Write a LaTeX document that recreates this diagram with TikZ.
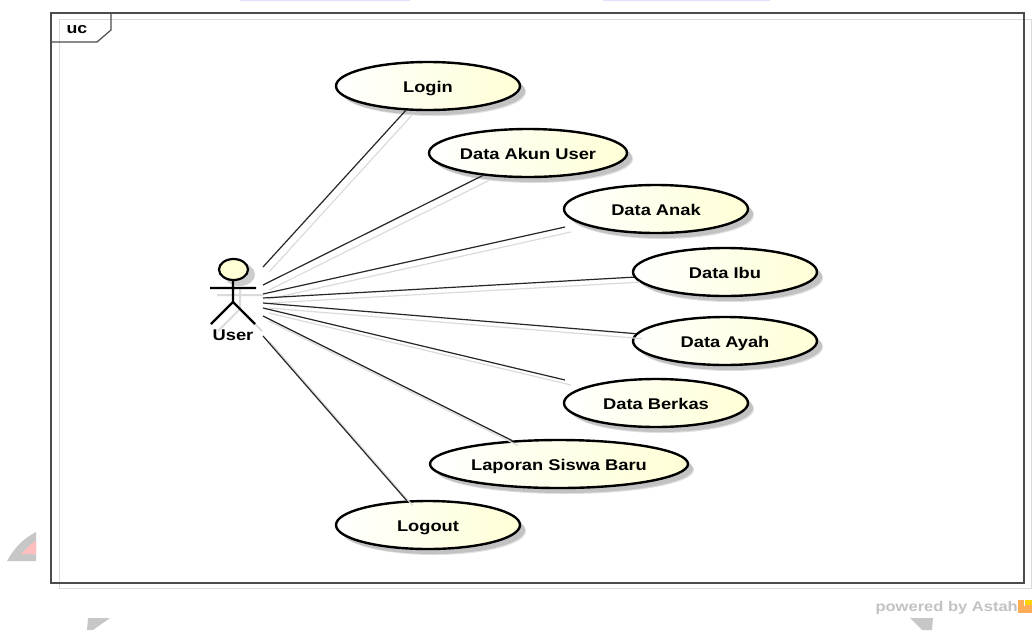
\documentclass[tikz,border=0pt]{standalone}
\usepackage{fontspec}
\setmainfont{Liberation Sans}
\newfontface\labelface[FakeStretch=1.18]{Liberation Sans Bold}
\usetikzlibrary{shapes.geometric,shadows}
\definecolor{shadegray}{gray}{0.80}
\definecolor{lightline}{gray}{0.86}
\definecolor{framedark}{gray}{0.30}
\definecolor{ucyellow}{HTML}{FFFFD6}
\tikzset{
  usecase/.style={ellipse,draw=black,line width=2.4pt,inner sep=0pt,minimum height=48pt,
    left color=white,right color=ucyellow,
    general shadow={shadow xshift=6pt,shadow yshift=-6pt,fill=black!12},
    general shadow={shadow xshift=5pt,shadow yshift=-5pt,fill=black!24},
    font=\labelface\fontsize{15.5}{16}\selectfont,text depth=0pt,text height=13pt},
  w184/.style={minimum width=184pt},
  assoc/.style={draw=black!85,line width=1.2pt},
  assocshadow/.style={draw=lightline,line width=1.2pt,transform canvas={shift={(6pt,-5pt)}}},
  stick/.style={draw=black,line width=2.2pt},
  stickshadow/.style={draw=lightline,line width=2pt,transform canvas={shift={(7pt,-7pt)}}},
  wm/.style={fill=black!22,draw=none},
  wmred/.style={fill=red!25,draw=none},
}
\begin{document}
\begin{tikzpicture}[x=1pt,y=-1pt]
\useasboundingbox (0,0) rectangle (1032,630);
% faded fragments of the page behind
\fill[wm] (7,561) .. controls (14,548) and (24,538) .. (36,532) -- (36,561) -- cycle;
\fill[wmred] (21,554) .. controls (26,549) and (31,544) .. (36,541) -- (36,554) -- cycle;
\fill[wm] (87,630) -- (88,618) -- (110,618) -- (93,630) -- cycle;
\fill[wm] (910,618) -- (933,618) -- (932,630) -- (922,630) -- cycle;
\fill[blue!12] (240,0) rectangle (410,1);
\fill[blue!12] (603,0) rectangle (770,1);
% frame
\draw[lightline,line width=1pt] (59,19) rectangle (1031,588);
\fill[white] (51,13) rectangle (1024,583);
\draw[lightline,line width=1pt] (59,19) -- (1024,19) (59,19) -- (59,583);
\draw[framedark,line width=1.2pt] (51,13) rectangle (1024,583);
\draw[framedark,line width=1.2pt] (51,42) -- (97,42) -- (111,30) -- (111,13);
\node[font=\labelface\fontsize{15}{16}\selectfont,anchor=center] (uc) at (77,30) {uc};
% anchors for the actor's associations
\coordinate (u1) at (263,267);
\coordinate (u2) at (263,285);
\coordinate (u3) at (263,294);
\coordinate (u4) at (263,298);
\coordinate (u5) at (263,303);
\coordinate (u6) at (263,308);
\coordinate (u7) at (263,316);
\coordinate (u8) at (263,336);
\coordinate (anakend) at (565,227);
\coordinate (berkasend) at (565,380);
% use cases
\node[usecase,w184] (login) at (428,86) {Login};
\node[usecase,minimum width=198pt] (akun) at (528,153) {Data Akun User};
\node[usecase,w184] (anak) at (656,209) {Data Anak};
\node[usecase,w184] (ibu) at (725,272) {Data Ibu};
\node[usecase,w184] (ayah) at (725,341) {Data Ayah};
\node[usecase,w184] (berkas) at (656,403) {Data Berkas};
\node[usecase,minimum width=258pt] (laporan) at (559,464) {Laporan Siswa Baru};
\node[usecase,w184] (logout) at (428,525) {Logout};
% association shadows
\draw[assocshadow] (u1) -- (login);
\draw[assocshadow] (u2) -- (akun);
\draw[assocshadow] (u3) -- (anakend);
\draw[assocshadow] (u4) -- (ibu);
\draw[assocshadow] (u5) -- (ayah);
\draw[assocshadow] (u6) -- (berkasend);
\draw[assocshadow] (u7) -- (laporan);
\draw[assocshadow] (u8) -- (logout);
% associations
\draw[assoc] (u1) -- (login);
\draw[assoc] (u2) -- (akun);
\draw[assoc] (u3) -- (anakend);
\draw[assoc] (u4) -- (ibu);
\draw[assoc] (u5) -- (ayah);
\draw[assoc] (u6) -- (berkasend);
\draw[assoc] (u7) -- (laporan);
\draw[assoc] (u8) -- (logout);
% actor
\fill[black!20] (239.5,274.5) ellipse (15.5 and 11.5);
\draw[stickshadow] (233,280) -- (233,302) (210,288) -- (256,288) (211,324) -- (233,302) -- (255,324);
\draw[stick] (233,280) -- (233,302) (210,288) -- (256,288) (211,324) -- (233,302) -- (255,324);
\draw[stick,fill=ucyellow] (233.5,269.5) ellipse (14.5 and 10.5);
\node[font=\labelface\fontsize{15.5}{16}\selectfont] (user) at (233,335) {User};
% watermark
\node[anchor=east,inner sep=0pt,text=black!24,font=\labelface\fontsize{14}{15}\selectfont] (astah) at (1018,607.5) {powered by Astah};
\fill[orange!65] (1018,600) rectangle (1032,613);
\fill[yellow!70!orange] (1024,600) rectangle (1032,605);
\fill[white] (1024,600) rectangle (1025,606);
\end{tikzpicture}
\end{document}
